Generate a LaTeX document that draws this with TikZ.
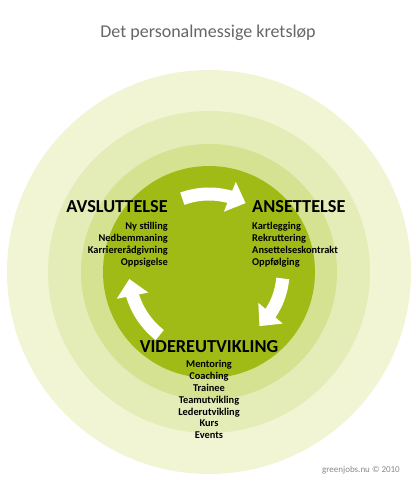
\documentclass[tikz,border=0pt]{standalone}
\usepackage{fontspec}
\setmainfont{Carlito}
\usetikzlibrary{arrows.meta,bending}
\definecolor{ringA}{HTML}{F1F5D4}
\definecolor{ringB}{HTML}{E4ECB8}
\definecolor{ringC}{HTML}{D5E292}
\definecolor{ringD}{HTML}{A1BB16}
\definecolor{titlegray}{HTML}{666666}
\definecolor{footgray}{HTML}{8A8A8A}
\begin{document}
\begin{tikzpicture}[x=1pt,y=1pt,
  cyclearrow/.style={white, line width=13pt, -{Triangle[width=31pt,length=17pt]}},
  headlabel/.style={font=\fontsize{18.3}{20}\selectfont\bfseries, inner sep=0pt, text=black},
  itemlabel/.style={font=\fontsize{10.4}{12}\selectfont\bfseries, inner sep=0pt, text=black}]
\useasboundingbox[fill=white] (0,0) rectangle (420,480);
\coordinate (c) at (209,208);
\fill[ringA] (c) circle[radius=202];
\fill[ringB] (c) circle[radius=161];
\fill[ringC] (c) circle[radius=128];
\fill[ringD] (c) circle[radius=106];
% arrows
\draw[cyclearrow] ([shift={(110:78)}]c) arc[start angle=110, end angle=62, radius=78];
\draw[cyclearrow] ([shift={(-5:74)}]c) arc[start angle=-5, end angle=-47, radius=74];
\draw[cyclearrow] ([shift={(232:80)}]c) arc[start angle=232, end angle=185, radius=80];
% title
\node[font=\fontsize{18}{20}\selectfont, text=titlegray, inner sep=0pt, anchor=base] (title) at (208,442) {Det personalmessige kretsløp};
% AVSLUTTELSE
\node[headlabel, anchor=base east] (avs) at (168,267) {AVSLUTTELSE};
\foreach \t [count=\i] in {Ny stilling, Nedbemmaning, Karriererådgivning, Oppsigelse}
  \node[itemlabel, anchor=base east] (avs\i) at (168,{250-11.7*(\i-1)}) {\t};
% ANSETTELSE
\node[headlabel, anchor=base west] (ans) at (252,267) {ANSETTELSE};
\foreach \t [count=\i] in {Kartlegging, Rekruttering, Ansettelseskontrakt, Oppfølging}
  \node[itemlabel, anchor=base west] (ans\i) at (252,{250-11.7*(\i-1)}) {\t};
% VIDEREUTVIKLING
\node[headlabel, anchor=base] (vid) at (209,127) {VIDEREUTVIKLING};
\foreach \t [count=\i] in {Mentoring, Coaching, Trainee, Teamutvikling, Lederutvikling, Kurs, Events}
  \node[itemlabel, anchor=base] (vid\i) at (209,{112-11.8*(\i-1)}) {\t};
% footer
\node[font=\fontsize{9}{10}\selectfont, text=footgray, inner sep=0pt, anchor=base east] (foot) at (400,7) {greenjobs.nu © 2010};
\end{tikzpicture}
\end{document}
